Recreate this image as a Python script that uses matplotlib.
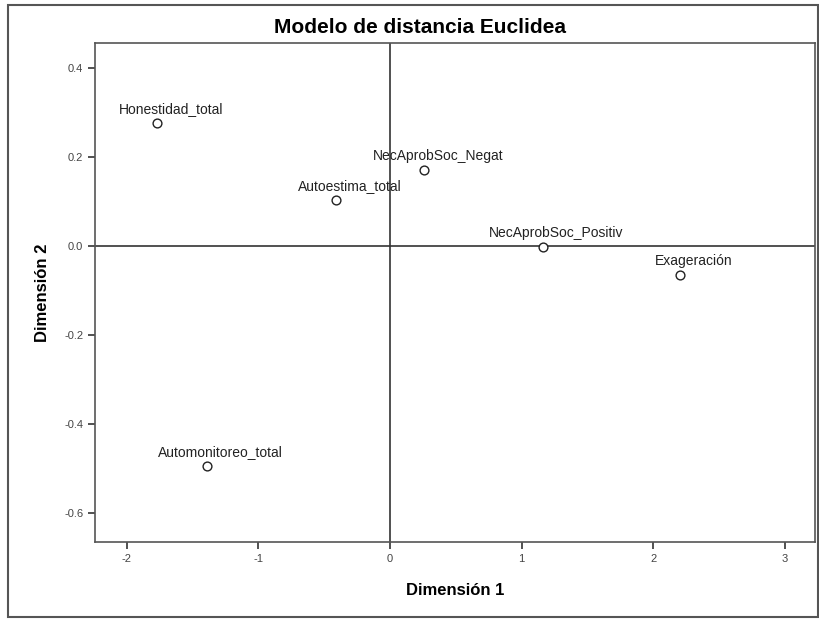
import matplotlib.pyplot as plt
from matplotlib.patches import Rectangle

plt.rcParams['font.family'] = ['Liberation Sans', 'DejaVu Sans']
plt.rcParams['axes.unicode_minus'] = False

# coordenadas de los estimulos en el espacio de dos dimensiones
etiquetas = ['Honestidad_total', 'NecAprobSoc_Negat', 'Autoestima_total',
             'NecAprobSoc_Positiv', 'Exageración', 'Automonitoreo_total']
dim1 = [-1.77, 0.26, -0.41, 1.16, 2.20, -1.39]
dim2 = [0.276, 0.171, 0.103, -0.002, -0.065, -0.494]

fig = plt.figure(figsize=(8.2, 6.19), dpi=100)
fig.patches.append(Rectangle((0.010, 0.004), 0.987, 0.988, transform=fig.transFigure,
                             fill=False, edgecolor='#555555', linewidth=1.5))

ax = fig.add_axes([0.116, 0.124, 0.878, 0.806])
ax.axhline(0, color='#333333', linewidth=1.2, zorder=1)
ax.axvline(0, color='#333333', linewidth=1.2, zorder=1)
ax.scatter(dim1, dim2, s=40, facecolors='white', edgecolors='#222222',
           linewidths=1.0, zorder=3)
for x, y, t in zip(dim1, dim2, etiquetas):
    ax.annotate(t, (x, y), xytext=(10, 5), textcoords='offset points',
                ha='center', va='bottom', fontsize=10, color='#222222')

ax.set_xlim(-2.24, 3.23)
ax.set_ylim(-0.665, 0.456)
ax.set_xticks([-2, -1, 0, 1, 2, 3])
ax.set_yticks([-0.6, -0.4, -0.2, 0.0, 0.2, 0.4])
ax.set_yticklabels(['-0.6', '-0.4', '-0.2', '0.0', '0.2', '0.4'])
ax.tick_params(labelsize=8, labelcolor='#444444', length=5, width=1.2, color='#333333')
for s in ax.spines.values():
    s.set_color('#555555')
    s.set_linewidth(1.2)

fig.text(0.512, 0.956, 'Modelo de distancia Euclidea', fontsize=15, fontweight='bold',
         ha='center', va='center')
ax.set_xlabel('Dimensión 1', fontsize=12, fontweight='bold', labelpad=14)
ax.set_ylabel('Dimensión 2', fontsize=12, fontweight='bold', labelpad=10)

fig.savefig('out.png', dpi=100)
